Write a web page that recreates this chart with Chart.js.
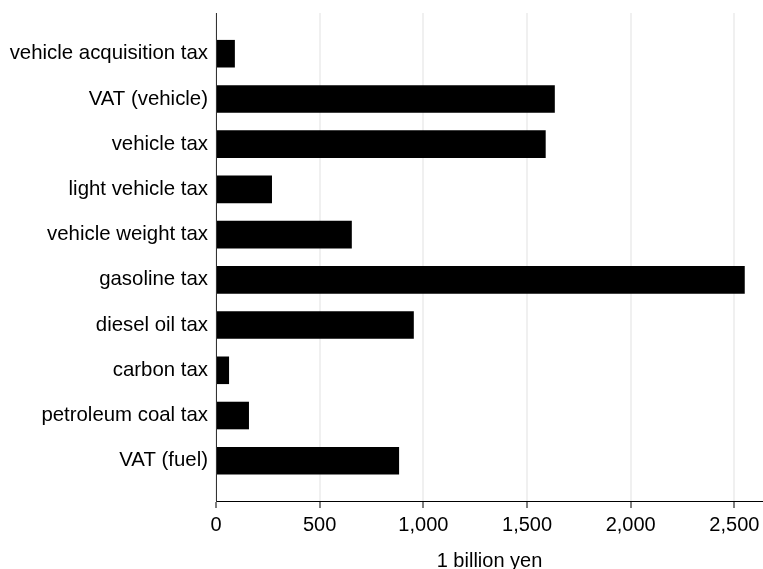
<!DOCTYPE html>
<html>
<head>
<meta charset="utf-8">
<script src="https://cdn.jsdelivr.net/npm/chart.js@4.4.0/dist/chart.umd.min.js"></script>
<style>
  html, body { margin: 0; padding: 0; background: #fff; }
  #wrap { width: 763px; height: 569px; }
</style>
</head>
<body>
<div id="wrap"><canvas id="chart"></canvas></div>
<script>
const categories = [
  'vehicle acquisition tax', 'VAT (vehicle)', 'vehicle tax', 'light vehicle tax', 'vehicle weight tax',
  'gasoline tax', 'diesel oil tax', 'carbon tax', 'petroleum coal tax', 'VAT (fuel)'
];
const values = [91, 1634, 1590, 270, 655, 2550, 954, 63, 159, 883];
const xTicks = [0, 500, 1000, 1500, 2000, 2500];
const xTitle = '1 billion yen';

const family = '"Liberation Sans", Arial, sans-serif';
const font = { family, size: 20 };

new Chart(document.getElementById('chart'), {
  type: 'bar',
  data: {
    datasets: [{
      data: values.map((v, i) => ({ x: v, y: i })),
      backgroundColor: '#000',
      barPercentage: 0.61,
      categoryPercentage: 1
    }]
  },
  options: {
    indexAxis: 'y',
    responsive: true,
    maintainAspectRatio: false,
    animation: false,
    layout: { padding: { top: 13, right: 0, left: 0, bottom: 0 } },
    plugins: { legend: { display: false }, tooltip: { enabled: false } },
    scales: {
      x: {
        type: 'linear', min: 0, max: 2638,
        afterBuildTicks: a => { a.ticks = xTicks.map(v => ({ value: v })); },
        afterFit: a => { a.height = 68; a.paddingLeft = 0; a.paddingRight = 0; },
        grid: { color: '#f0f0f0', lineWidth: 2, tickColor: '#000', tickLength: 7, tickWidth: 1 },
        border: { color: '#000', width: 1 },
        ticks: { font, color: '#000', padding: 5, maxRotation: 0, callback: v => v.toLocaleString('en-US') },
        title: { display: true, text: xTitle, font, color: '#000', padding: { top: 0, bottom: -4 } }
      },
      y: {
        type: 'linear', reverse: true, min: -0.9, max: 9.89, offset: false,
        afterBuildTicks: a => { a.ticks = categories.map((c, i) => ({ value: i })); },
        afterFit: a => { a.width = 216; a.paddingTop = 0; a.paddingBottom = 0; },
        grid: { drawOnChartArea: false, drawTicks: false, offset: false },
        border: { color: '#333', width: 1 },
        ticks: { font: { family, size: 20.4 }, color: '#000', padding: 8, callback: v => categories[v] }
      }
    }
  }
});
</script>
</body>
</html>
